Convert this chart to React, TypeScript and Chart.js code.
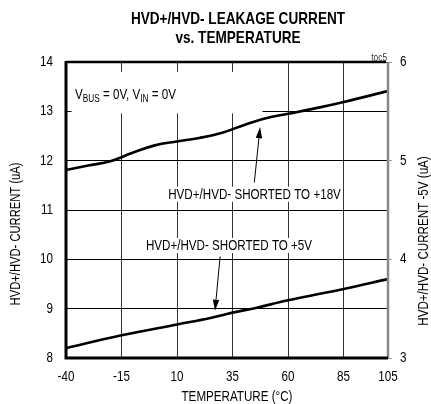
import React, { useEffect, useRef } from "react";
import { Chart, registerables } from "chart.js";

Chart.register(...registerables);

const titleLines = ["HVD+/HVD- LEAKAGE CURRENT", "vs. TEMPERATURE"];
const xTicks = [-40, -15, 10, 35, 60, 85, 105];
const tempUpper = [-40, -30, -20, -10, 0, 10, 20, 30, 40, 50, 60, 70, 85, 105];
const currentUpper = [11.81, 11.9, 11.99, 12.16, 12.31, 12.39, 12.46, 12.56, 12.72, 12.86, 12.95, 13.04, 13.19, 13.41];
const tempLower = [-40, -15, 10, 25, 35, 45, 60, 85, 105];
const currentLower = [8.2, 8.46, 8.68, 8.81, 8.92, 9.01, 9.17, 9.4, 9.6];
const labelUpper = "HVD+/HVD- SHORTED TO +18V";
const labelLower = "HVD+/HVD- SHORTED TO +5V";
const xTitle = "TEMPERATURE (°C)";
const yTitle = "HVD+/HVD- CURRENT (uA)";
const y2Title = "HVD+/HVD- CURRENT -5V (uA)";

const FONT = '"Liberation Sans", Arial, sans-serif';
const SX = 0.83;

function narrowText(
  ctx: CanvasRenderingContext2D,
  text: string,
  x: number,
  y: number,
  size: number,
  opts: { bold?: boolean; align?: CanvasTextAlign; baseline?: CanvasTextBaseline; sx?: number; rot?: number } = {}
) {
  ctx.save();
  ctx.translate(x, y);
  if (opts.rot) ctx.rotate(opts.rot);
  ctx.scale(opts.sx ?? SX, 1);
  ctx.font = `${opts.bold ? "bold " : ""}${size}px ${FONT}`;
  ctx.textAlign = opts.align ?? "center";
  ctx.textBaseline = opts.baseline ?? "middle";
  ctx.fillText(text, 0, 0);
  const w = ctx.measureText(text).width * (opts.sx ?? SX);
  ctx.restore();
  return w;
}

function measureNarrow(ctx: CanvasRenderingContext2D, text: string, size: number, sx = SX) {
  ctx.save();
  ctx.font = `${size}px ${FONT}`;
  const w = ctx.measureText(text).width * sx;
  ctx.restore();
  return w;
}

const overlay = {
  id: "overlay",
  beforeDatasetsDraw(chart: any) {
    const { ctx, scales } = chart;
    const x = scales.x, y = scales.y;
    ctx.save();
    ctx.fillStyle = "#fff";
    const bx0 = x.getPixelForValue(-37.5);
    const bx1 = x.getPixelForValue(48.5);
    const by0 = y.getPixelForValue(13.8);
    const by1 = y.getPixelForValue(12.96);
    ctx.fillRect(bx0, by0, bx1 - bx0, by1 - by0);
    const boxes = [
      [labelUpper, 44.9, 11.31],
      [labelLower, 33.4, 10.27],
    ] as const;
    for (const [t, tx, ty] of boxes) {
      const w = measureNarrow(ctx, t, 14);
      const cx = x.getPixelForValue(tx);
      const cy = y.getPixelForValue(ty);
      ctx.fillRect(cx - w / 2 - 2, cy - 8, w + 4, 15);
    }
    ctx.restore();
  },
  afterDatasetsDraw(chart: any) {
    const { ctx, chartArea, scales } = chart;
    const x = scales.x, y = scales.y, y2 = scales.y2;
    const { left, right, top, bottom } = chartArea;
    ctx.save();
    // borders
    ctx.strokeStyle = "#888";
    ctx.lineWidth = 2.5;
    ctx.beginPath();
    ctx.moveTo(right, top);
    ctx.lineTo(right, bottom);
    ctx.stroke();
    ctx.strokeStyle = "#000";
    ctx.lineWidth = 2.5;
    ctx.beginPath();
    ctx.moveTo(left, top);
    ctx.lineTo(right - 2, top);
    ctx.stroke();
    ctx.lineWidth = 3;
    ctx.beginPath();
    ctx.moveTo(left, top - 1);
    ctx.lineTo(left, bottom);
    ctx.lineTo(right, bottom);
    ctx.stroke();

    ctx.fillStyle = "#000";
    // tick labels
    for (const t of x.ticks) narrowText(ctx, String(t.value), x.getPixelForValue(t.value), bottom + 19, 14);
    for (const t of y.ticks) narrowText(ctx, String(t.value), left - 13, y.getPixelForValue(t.value), 14, { align: "right" });
    for (const t of y2.ticks) narrowText(ctx, String(t.value), right + 12, y2.getPixelForValue(t.value), 14, { align: "left" });

    // labels
    narrowText(ctx, labelUpper, x.getPixelForValue(44.9), y.getPixelForValue(11.31), 14);
    narrowText(ctx, labelLower, x.getPixelForValue(33.4), y.getPixelForValue(10.27), 14);

    // arrows
    const arrow = (t0: number, v0: number, t1: number, v1: number) => {
      const x0 = x.getPixelForValue(t0), y0 = y.getPixelForValue(v0);
      const x1 = x.getPixelForValue(t1), y1 = y.getPixelForValue(v1);
      const a = Math.atan2(y1 - y0, x1 - x0);
      const L = 11, H = 3.2;
      ctx.strokeStyle = "#000";
      ctx.lineWidth = 1;
      ctx.beginPath();
      ctx.moveTo(x0, y0);
      ctx.lineTo(x1 - Math.cos(a) * L, y1 - Math.sin(a) * L);
      ctx.stroke();
      ctx.beginPath();
      ctx.moveTo(x1, y1);
      ctx.lineTo(x1 - Math.cos(a) * L - Math.sin(a) * H, y1 - Math.sin(a) * L + Math.cos(a) * H);
      ctx.lineTo(x1 - Math.cos(a) * L + Math.sin(a) * H, y1 - Math.sin(a) * L - Math.cos(a) * H);
      ctx.closePath();
      ctx.fill();
    };
    arrow(44.8, 11.56, 47.4, 12.68);
    arrow(29.4, 10.06, 27.1, 8.96);

    // conditions text with subscripts
    let cx = x.getPixelForValue(-36);
    const base = y.getPixelForValue(13.25);
    const parts: [string, boolean][] = [["V", false], ["BUS", true], [" = 0V, V", false], ["IN", true], [" = 0V", false]];
    for (const [t, sub] of parts) {
      cx += narrowText(ctx, t, cx, base + (sub ? 3 : 0), sub ? 10 : 14, { align: "left", baseline: "alphabetic" });
    }

    // toc5
    ctx.fillStyle = "#333";
    narrowText(ctx, "toc5", right - 1, top - 1, 10, { align: "right", baseline: "alphabetic" });

    // titles
    ctx.fillStyle = "#000";
    narrowText(ctx, titleLines[0], 238, 19, 17, { bold: true, sx: 0.8 });
    narrowText(ctx, titleLines[1], 238, 38, 17, { bold: true, sx: 0.8 });

    narrowText(ctx, xTitle, 237, 397, 14);
    narrowText(ctx, yTitle, 16, 234, 14, { rot: -Math.PI / 2, sx: 0.8 });
    narrowText(ctx, y2Title, 424, 241, 14, { rot: -Math.PI / 2 });

    ctx.restore();
  },
};

export default function App() {
  const ref = useRef<HTMLCanvasElement>(null);
  useEffect(() => {
    if (!ref.current) return;
    const chart = new Chart(ref.current, {
      type: "line",
      data: {
        datasets: [
          {
            label: labelUpper,
            data: tempUpper.map((t, i) => ({ x: t, y: currentUpper[i] })),
            borderColor: "#000",
            borderWidth: 2.6,
            pointRadius: 0,
            tension: 0.4,
            yAxisID: "y",
          },
          {
            label: labelLower,
            data: tempLower.map((t, i) => ({ x: t, y: currentLower[i] })),
            borderColor: "#000",
            borderWidth: 2.6,
            pointRadius: 0,
            tension: 0.4,
            yAxisID: "y",
          },
        ],
      },
      options: {
        responsive: false,
        animation: false,
        layout: { padding: { top: 62, left: 0, right: 0, bottom: 0 } },
        plugins: { legend: { display: false }, tooltip: { enabled: false }, title: { display: false } },
        scales: {
          x: {
            type: "linear",
            min: -40,
            max: 105,
            afterBuildTicks: (s: any) => {
              s.ticks = xTicks.map((v) => ({ value: v }));
            },
            afterFit: (s: any) => {
              s.height = 46;
            },
            ticks: { display: false },
            grid: { color: "#333", lineWidth: 1, drawTicks: false },
            border: { display: false },
          },
          y: {
            position: "left",
            min: 8,
            max: 14,
            ticks: { stepSize: 1, display: false },
            afterFit: (s: any) => {
              s.width = 66;
            },
            grid: { color: "#000", lineWidth: 1, drawTicks: false },
            border: { display: false },
          },
          y2: {
            position: "right",
            min: 3,
            max: 6,
            ticks: { stepSize: 1, display: false },
            afterFit: (s: any) => {
              s.width = 43;
            },
            grid: { drawOnChartArea: false, drawTicks: true, tickLength: 4, tickColor: "#999" },
            border: { display: false },
          },
        },
      },
      plugins: [overlay],
    });
    return () => chart.destroy();
  }, []);
  return (
    <div style={{ position: "fixed", left: 0, top: 0, width: 431, height: 404, background: "#fff" }}>
      <canvas ref={ref} width={431} height={404} />
    </div>
  );
}
